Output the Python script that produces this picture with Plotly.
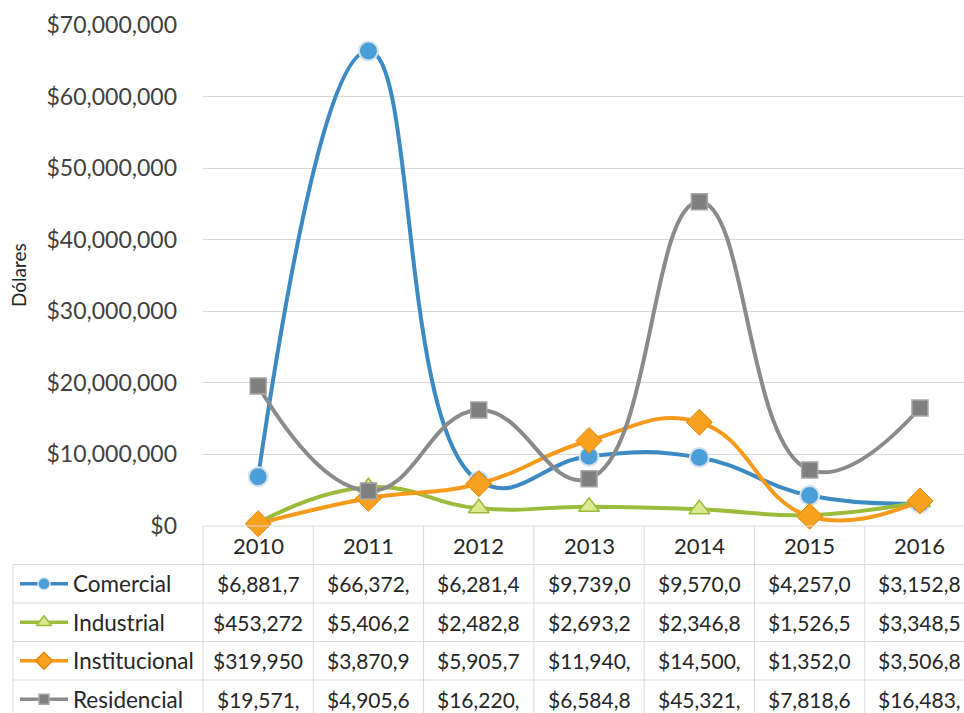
import plotly.graph_objects as go

years = ["2010", "2011", "2012", "2013", "2014", "2015", "2016"]
comercial = [6881700, 66372000, 6281400, 9739000, 9570000, 4257000, 3152800]
industrial = [453272, 5406200, 2482800, 2693200, 2346800, 1526500, 3348500]
institucional = [319950, 3870900, 5905700, 11940000, 14500000, 1352000, 3506800]
residencial = [19571000, 4905600, 16220000, 6584800, 45321000, 7818600, 16483000]
series_names = ["Comercial", "Industrial", "Institucional", "Residencial"]
y_title = "Dólares"

W, H = 964, 713
FONT = "Lato"
TXT = "#262626"
GRID = "#d9d9d9"

styles = {
    "Comercial": dict(line="#3b8ac4", symbol="circle", size=19, key=12, fill="#4a9fd8", edge="#d6e2ee", ew=2),
    "Industrial": dict(line="#9bbb3b", symbol="triangle-up", size=18, key=13, fill="#dbe88e", edge="#9bbb3b", ew=1.5),
    "Institucional": dict(line="#f59a1b", symbol="diamond", size=20, key=13, fill="#f7a11e", edge="#e4870c", ew=1),
    "Residencial": dict(line="#8a8a8a", symbol="square", size=16, key=10, fill="#7f7f7f", edge="#a6a6a6", ew=1.5),
}
data = {"Comercial": comercial, "Industrial": industrial,
        "Institucional": institucional, "Residencial": residencial}

# layout geometry (pixels)
plot_left, plot_top, plot_bottom = 203, 25, 526
row_h = 38.5
table_left = 13
col_w = 110.3
x_right_index = -0.5 + (W - plot_left) / col_w

def py(p):
    return (H - p) / H

def px(p):
    return p / W

fig = go.Figure()

for name in series_names:
    s = styles[name]
    fig.add_trace(go.Scatter(
        x=years, y=data[name], name=name, mode="lines+markers",
        line=dict(color=s["line"], width=4, shape="spline", smoothing=1.3),
        marker=dict(symbol=s["symbol"], size=s["size"], color=s["fill"],
                    line=dict(color=s["edge"], width=s["ew"])),
        showlegend=False, cliponaxis=False,
    ))

# legend keys in table's first column (separate full-page pixel axes)
for i, name in enumerate(series_names):
    s = styles[name]
    cy = plot_bottom + row_h * (i + 1.5)
    fig.add_trace(go.Scatter(
        x=[20, 68], y=[cy, cy], xaxis="x2", yaxis="y2", mode="lines",
        line=dict(color=s["line"], width=3.5), showlegend=False, hoverinfo="skip"))
    fig.add_trace(go.Scatter(
        x=[44], y=[cy], xaxis="x2", yaxis="y2", mode="markers",
        marker=dict(symbol=s["symbol"], size=s["key"], color=s["fill"],
                    line=dict(color=s["edge"], width=1.5)),
        showlegend=False, hoverinfo="skip"))

shapes = []
line_style = dict(color=GRID, width=1)
shapes.append(dict(type="line", xref="paper", yref="paper", x0=px(plot_left), x1=1,
                   y0=py(plot_bottom), y1=py(plot_bottom), line=line_style))
for k in range(1, 5):
    yy = py(plot_bottom + k * row_h)
    shapes.append(dict(type="line", xref="paper", yref="paper", x0=px(table_left), x1=1,
                       y0=yy, y1=yy, line=line_style))
shapes.append(dict(type="line", xref="paper", yref="paper", x0=px(table_left), x1=px(table_left),
                   y0=py(plot_bottom + row_h), y1=0, line=line_style))
shapes.append(dict(type="line", xref="paper", yref="paper", x0=px(plot_left), x1=px(plot_left),
                   y0=py(plot_bottom), y1=0, line=line_style))
for i in range(len(years) - 1):
    shapes.append(dict(type="line", xref="x", yref="paper", x0=i + 0.5, x1=i + 0.5,
                       y0=py(plot_bottom), y1=0, line=line_style))

annotations = []
for i, yr in enumerate(years):
    annotations.append(dict(x=i, xref="x", y=py(plot_bottom + row_h / 2), yref="paper",
                            text=yr, showarrow=False, xanchor="center", yanchor="middle",
                            font=dict(family=FONT, size=22, color=TXT)))
for r, name in enumerate(series_names):
    cy = py(plot_bottom + row_h * (r + 1.5))
    annotations.append(dict(x=px(71), xref="paper", y=cy, yref="paper", text=name,
                            showarrow=False, xanchor="left", yanchor="middle",
                            font=dict(family=FONT, size=22.5, color=TXT)))
    for i, v in enumerate(data[name]):
        txt = ("$" + f"{v:,}")[:8]
        annotations.append(dict(x=i, xref="x", y=cy, yref="paper", text=txt,
                                showarrow=False, xanchor="center", yanchor="middle",
                                font=dict(family=FONT, size=21, color=TXT)))
annotations.append(dict(x=px(18), xref="paper", y=py(275), yref="paper", text=y_title,
                        textangle=-90, showarrow=False, xanchor="center", yanchor="middle",
                        font=dict(family=FONT, size=19, color=TXT)))

fig.update_layout(
    width=W, height=H,
    margin=dict(l=0, r=0, t=0, b=0, pad=0, autoexpand=False),
    paper_bgcolor="white", plot_bgcolor="rgba(0,0,0,0)",
    xaxis=dict(type="category", domain=[px(plot_left), 1], range=[-0.5, x_right_index],
               showticklabels=False, showgrid=False, zeroline=False, showline=False, ticks="",
               automargin=False, anchor="y"),
    yaxis=dict(domain=[py(plot_bottom), py(plot_top)], range=[0, 70000000], dtick=10000000,
               tickformat="$,.0f", showgrid=True, gridcolor=GRID, gridwidth=1,
               zeroline=False, showline=False, ticks="", ticklabelstandoff=25, automargin=False,
               tickfont=dict(family=FONT, size=23, color="#404040"), anchor="x"),
    xaxis2=dict(domain=[0, 1], range=[0, W], visible=False, anchor="y2"),
    yaxis2=dict(domain=[0, 1], range=[H, 0], visible=False, anchor="x2"),
    shapes=shapes, annotations=annotations,
)

fig.write_html("out.html", config={"displayModeBar": False},
               post_script="document.body.style.margin='0px';document.body.style.overflow='hidden';")
